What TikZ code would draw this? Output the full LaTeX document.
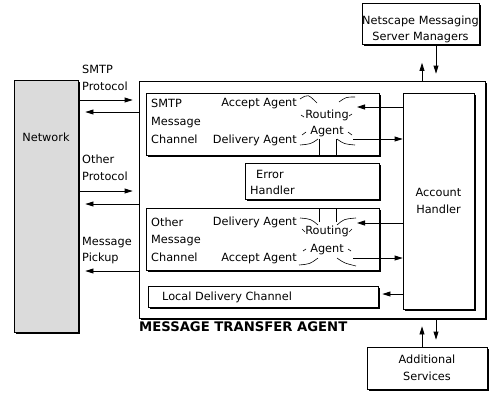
\documentclass[tikz,border=0pt]{standalone}
\usepackage{fontspec}
\setmainfont{DejaVu Sans}
\usetikzlibrary{arrows.meta,shadows}
\begin{document}
\begin{tikzpicture}[x=1pt,y=-1pt,
  box/.style={draw, line width=0.8pt, fill=white, inner sep=0pt,
    drop shadow={shadow xshift=1.8pt, shadow yshift=-1.8pt, opacity=1, fill=black}},
  txt/.style={font=\fontsize{11.3}{16}\selectfont, inner sep=0pt, text height=8pt, text depth=2pt},
  arr/.style={line width=0.8pt, -{Triangle[length=8pt,width=5pt]}},
  ray/.style={line width=0.6pt}]
\useasboundingbox (0,0) rectangle (498,402);
% boxes
\node[box, fill=gray!28, minimum width=64pt, minimum height=252pt] (net) at (46,206) {};
\node[box, minimum width=346pt, minimum height=237pt] (mta) at (312,199.5) {};
\node[box, minimum width=233pt, minimum height=62pt] (smtp) at (262.5,124) {};
\node[box, minimum width=134pt, minimum height=36pt] (err) at (312,181) {};
\node[box, minimum width=233pt, minimum height=62pt] (oth) at (262.5,239) {};
\node[box, minimum width=230pt, minimum height=21pt] (loc) at (263,296.5) {};
\node[box, minimum width=71pt, minimum height=216pt] (ah) at (438.5,201) {};
\node[box, minimum width=117pt, minimum height=41pt] (nms) at (420.5,24) {};
\node[box, minimum width=120pt, minimum height=42pt] (as) at (427,368) {};
% texts
\node[txt] (tnet) at (46,138) {Network};
\node[txt, anchor=west] (tsp1) at (82,70) {SMTP};
\node[txt, anchor=west] (tsp2) at (82,87) {Protocol};
\node[txt, anchor=west] (top1) at (82,160) {Other};
\node[txt, anchor=west] (top2) at (82,177) {Protocol};
\node[txt, anchor=west] (tmp1) at (82,242) {Message};
\node[txt, anchor=west] (tmp2) at (82,258) {Pickup};
\node[txt, anchor=west] (ts1) at (151,104) {SMTP};
\node[txt, anchor=west] (ts2) at (151,122) {Message};
\node[txt, anchor=west] (ts3) at (151,140) {Channel};
\node[txt, anchor=east] (tsa) at (297,103) {Accept Agent};
\node[txt, anchor=east] (tsd) at (297,140) {Delivery Agent};
\node[txt] (tsr1) at (327,115) {Routing};
\node[txt] (tsr2) at (327,131) {Agent};
\node[txt, anchor=west] (te1) at (256,175) {Error};
\node[txt, anchor=west] (te2) at (250,191) {Handler};
\node[txt, anchor=west] (to1) at (151,223) {Other};
\node[txt, anchor=west] (to2) at (151,240) {Message};
\node[txt, anchor=west] (to3) at (151,258) {Channel};
\node[txt, anchor=east] (tod) at (297,222) {Delivery Agent};
\node[txt, anchor=east] (toa) at (297,258) {Accept Agent};
\node[txt] (tor1) at (327,231) {Routing};
\node[txt] (tor2) at (327,249) {Agent};
\node[txt, anchor=west] (tl) at (162,297) {Local Delivery Channel};
\node[txt] (ta1) at (438.5,193) {Account};
\node[txt] (ta2) at (438.5,210) {Handler};
\node[txt] (tn1) at (420.5,21) {Netscape Messaging};
\node[txt] (tn2) at (420.5,37) {Server Managers};
\node[txt] (tad1) at (427,360) {Additional};
\node[txt] (tad2) at (427,377) {Services};
\node[font=\fontsize{13.2}{15}\bfseries, inner sep=0pt, anchor=west] (tmta) at (139,327) {MESSAGE TRANSFER AGENT};
% routing agent rays (SMTP)
\draw[ray] (300,99) .. controls (308,94) .. (317,103);
\draw[ray] (339,102) .. controls (346,97) .. (355,97);
\draw[ray] (301,115) -- (304,117);
\draw[ray] (349,116) -- (352,114);
\draw[ray] (302,135) -- (306,132);
\draw[ray] (348,132) -- (352,135);
\draw[ray] (300,145) .. controls (311,144) .. (318,139);
\draw[ray] (337,139) .. controls (344,144) .. (355,145);
\draw[ray] (319,139) -- (smtp.south -| 319,0);
\draw[ray] (336,139) -- (smtp.south -| 336,0);
% routing agent rays (Other)
\draw[ray] (319,222) -- (oth.north -| 319,0);
\draw[ray] (336,222) -- (oth.north -| 336,0);
\draw[ray] (300,218) .. controls (311,219) .. (318,225);
\draw[ray] (337,225) .. controls (344,219) .. (356,218);
\draw[ray] (302,229) -- (305,232);
\draw[ray] (349,232) -- (352,229);
\draw[ray] (303,251) -- (306,249);
\draw[ray] (348,249) -- (351,251);
\draw[ray] (299,265) .. controls (310,264) .. (318,258);
\draw[ray] (337,258) .. controls (344,263) .. (356,266);
% routing agent ports
\coordinate (sin) at (357,107);
\coordinate (sout) at (353,139);
\coordinate (oin) at (357,223);
\coordinate (oout) at (353,258);
% left connectors
\draw[arr] (net.east |- 0,100) -- ([xshift=-6pt]mta.west |- 0,100);
\draw[arr] (mta.west |- 0,112) -- ([xshift=7pt]net.east |- 0,112);
\draw[arr] (net.east |- 0,191) -- ([xshift=-6pt]mta.west |- 0,191);
\draw[arr] (mta.west |- 0,204) -- ([xshift=7pt]net.east |- 0,204);
\draw[arr] (mta.west |- 0,271) -- ([xshift=7pt]net.east |- 0,271);
% account handler connectors
\draw[arr] (ah.west |- sin) -- (sin);
\draw[arr] (sout) -- (ah.west |- sout);
\draw[arr] (ah.west |- oin) -- (oin);
\draw[arr] (oout) -- (ah.west |- oout);
\draw[arr] (ah.west |- 0,294) -- ([xshift=4pt]loc.east |- 0,294);
% top and bottom connectors
\draw[arr] (mta.north -| 422,0) -- ([yshift=-18pt]nms.south -| 422,0);
\draw[arr] (nms.south -| 436,0) -- ([yshift=7pt]mta.north -| 436,0);
\draw[arr] (as.north -| 422,0) -- ([yshift=-8pt]mta.south -| 422,0);
\draw[arr] (mta.south -| 436,0) -- ([yshift=7pt]as.north -| 436,0);
\end{tikzpicture}
\end{document}
